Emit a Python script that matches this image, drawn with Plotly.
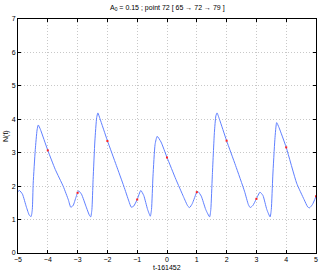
import plotly.graph_objects as go

# Curve N(t)
t_vals = [-5.0, -4.95, -4.85, -4.72, -4.62, -4.56, -4.52, -4.49, -4.42, -4.36, -4.32, -4.25,
          -4.0, -3.75, -3.48, -3.31, -3.23, -3.15, -3.05, -2.97, -2.87, -2.7, -2.6, -2.56,
          -2.52, -2.48, -2.42, -2.36, -2.32, -2.25, -2.0, -1.7, -1.45, -1.28, -1.2, -1.12,
          -1.0, -0.88, -0.78, -0.65, -0.56, -0.52, -0.47, -0.4, -0.33, -0.2, 0.0, 0.3,
          0.55, 0.7, 0.76, 0.85, 1.0, 1.04, 1.15, 1.3, 1.43, 1.47, 1.52, 1.59, 1.64,
          1.68, 1.76, 2.0, 2.3, 2.6, 2.73, 2.79, 2.88, 3.0, 3.12, 3.22, 3.35, 3.46,
          3.5, 3.55, 3.62, 3.68, 3.76, 4.0, 4.35, 4.6, 4.72, 4.78, 4.88, 5.0]
n_vals = [1.84, 1.87, 1.76, 1.38, 1.13, 1.09, 1.3, 2.09, 3.09, 3.68, 3.83, 3.70,
          3.07, 2.50, 1.99, 1.59, 1.37, 1.42, 1.68, 1.86, 1.76, 1.35, 1.12, 1.08,
          1.30, 2.20, 3.35, 4.05, 4.19, 4.02, 3.36, 2.62, 2.00, 1.55, 1.37, 1.40,
          1.60, 1.87, 1.72, 1.30, 1.10, 1.30, 2.30, 3.25, 3.49, 3.32, 2.86, 2.20,
          1.69, 1.40, 1.36, 1.48, 1.82, 1.84, 1.70, 1.30, 1.08, 1.30, 2.30, 3.60, 4.10,
          4.19, 4.00, 3.36, 2.62, 1.85, 1.45, 1.36, 1.42, 1.62, 1.82, 1.72, 1.30, 1.08,
          1.30, 2.30, 3.40, 3.90, 3.75, 3.16, 2.09, 1.60, 1.38, 1.35, 1.45, 1.69]

# Highlighted points (red) at integer t
mark_t = [-4, -3, -2, -1, 0, 1, 2, 3, 4, 5]
mark_n = [3.07, 1.80, 3.35, 1.60, 2.86, 1.82, 3.36, 1.62, 3.16, 1.70]

x_ticks = [-5, -4, -3, -2, -1, 0, 1, 2, 3, 4, 5]
x_tick_text = ["\u22125", "\u22124", "\u22123", "\u22122", "\u22121", "0", "1", "2", "3", "4", "5"]
y_ticks = [0, 1, 2, 3, 4, 5, 6, 7]

title_text = "A<sub>0</sub> = 0.15 ; point 72 [ 65 \u2192 72 \u2192 79 ]"
x_title = "t-161452"
y_title = "N(t)"

fig = go.Figure()
fig.add_trace(go.Scatter(x=t_vals, y=n_vals, mode="lines",
                         line=dict(color="#6080ff", width=1, shape="spline", smoothing=0.5),
                         showlegend=False, hoverinfo="skip"))
fig.add_trace(go.Scatter(x=mark_t, y=mark_n, mode="markers",
                         marker=dict(color="#ff2020", size=2, symbol="square"),
                         showlegend=False, hoverinfo="skip", cliponaxis=False))

axis_common = dict(showline=True, linecolor="black", linewidth=1, mirror="ticks",
                   ticks="inside", ticklen=3, tickcolor="black",
                   showgrid=True, gridcolor="#c8c8c8", griddash="1px,2px", gridwidth=1,
                   zeroline=False, tickfont=dict(size=7, color="black"),
                   automargin=False)

fig.update_layout(
    width=322, height=273,
    margin=dict(l=18, r=6, t=19, b=20),
    paper_bgcolor="white", plot_bgcolor="white",
    font=dict(family="Liberation Sans, Arial, sans-serif", size=7, color="black"),
    xaxis=dict(range=[-5, 5], tickvals=x_ticks, ticktext=x_tick_text, ticklabelstandoff=0,
               **axis_common),
    yaxis=dict(range=[0, 7], tickvals=y_ticks, **axis_common),
    annotations=[
        dict(text=title_text, xref="paper", yref="paper", x=0.5, y=1, yshift=11,
             xanchor="center", yanchor="middle", showarrow=False, font=dict(size=7)),
        dict(text=x_title, xref="paper", yref="paper", x=0.5, y=0, yshift=-14,
             xanchor="center", yanchor="middle", showarrow=False, font=dict(size=7)),
        dict(text=y_title, xref="paper", yref="paper", x=0, y=0.5, xshift=-12,
             xanchor="center", yanchor="middle", textangle=-90, showarrow=False,
             font=dict(size=7)),
    ],
)

fig.write_html("out.html",
               config={"displayModeBar": False},
               post_script="document.body.style.margin='0';document.body.style.padding='0';"
                           "document.body.style.overflow='hidden';")
